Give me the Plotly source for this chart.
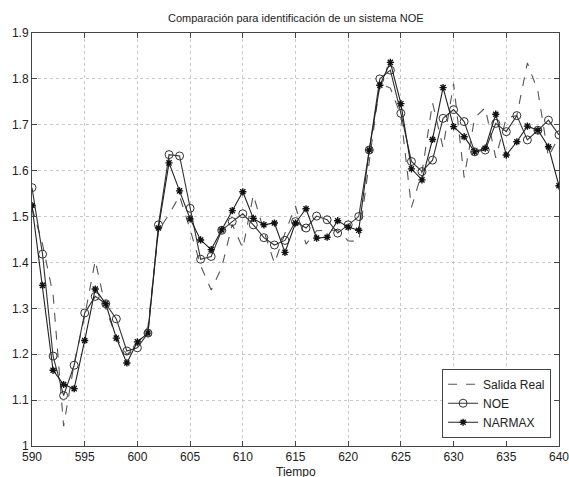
import plotly.graph_objects as go

tiempo = list(range(590, 641))

salida_real = [1.52, 1.44, 1.33, 1.043, 1.18, 1.283, 1.404, 1.30, 1.236, 1.199,
               1.22, 1.26, 1.469, 1.505, 1.545, 1.472, 1.393, 1.34, 1.389, 1.483,
               1.431, 1.547, 1.469, 1.398, 1.464, 1.523, 1.44, 1.469, 1.47, 1.47,
               1.447, 1.446, 1.62, 1.79, 1.78, 1.72, 1.52, 1.596, 1.748, 1.65,
               1.79, 1.585, 1.715, 1.737, 1.628, 1.715, 1.72, 1.835, 1.773, 1.63,
               1.675]

noe = [1.563, 1.418, 1.196, 1.11, 1.176, 1.29, 1.326, 1.31, 1.277, 1.207,
       1.214, 1.246, 1.482, 1.635, 1.632, 1.518, 1.407, 1.413, 1.470, 1.489,
       1.506, 1.482, 1.454, 1.438, 1.448, 1.489, 1.475, 1.501, 1.493, 1.464,
       1.482, 1.50, 1.645, 1.80, 1.819, 1.725, 1.62, 1.598, 1.623, 1.714,
       1.733, 1.707, 1.641, 1.645, 1.703, 1.685, 1.72, 1.667, 1.688, 1.71,
       1.678]

narmax = [1.524, 1.35, 1.165, 1.134, 1.125, 1.23, 1.342, 1.31, 1.235, 1.181,
          1.227, 1.246, 1.475, 1.617, 1.556, 1.495, 1.449, 1.428, 1.471, 1.513,
          1.554, 1.496, 1.482, 1.486, 1.422, 1.486, 1.517, 1.453, 1.455, 1.491,
          1.477, 1.470, 1.645, 1.786, 1.836, 1.746, 1.604, 1.580, 1.668, 1.781,
          1.696, 1.674, 1.641, 1.649, 1.723, 1.634, 1.663, 1.697, 1.688, 1.652,
          1.567]

x_ticks = list(range(590, 641, 5))
y_ticks = [1, 1.1, 1.2, 1.3, 1.4, 1.5, 1.6, 1.7, 1.8, 1.9]
y_tick_text = ["1", "1.1", "1.2", "1.3", "1.4", "1.5", "1.6", "1.7", "1.8", "1.9"]

font_family = "Liberation Sans, Arial, sans-serif"

fig = go.Figure()
fig.add_trace(go.Scatter(
    x=tiempo, y=salida_real, mode="lines", name="Salida Real",
    line=dict(color="#555555", width=1.1, dash="dash")))
fig.add_trace(go.Scatter(
    x=tiempo, y=noe, mode="lines+markers", name="NOE",
    line=dict(color="#333333", width=1.1),
    marker=dict(symbol="circle-open", size=8, color="#333333", line=dict(width=1))))
fig.add_trace(go.Scatter(
    x=tiempo, y=narmax, mode="lines+markers", name="NARMAX",
    line=dict(color="#222222", width=1.1),
    marker=dict(symbol="asterisk-open", size=6, color="#111111", line=dict(width=1.4))))

axis_common = dict(
    showline=True, linecolor="#444444", linewidth=1, mirror="ticks",
    ticks="inside", ticklen=5, tickcolor="#444444",
    showgrid=True, gridcolor="#c8c8c8", griddash="dot", gridwidth=1,
    zeroline=False, automargin=False, ticklabeloverflow="allow",
    tickfont=dict(family=font_family, size=12, color="#222222"),
)

fig.update_layout(
    width=569, height=477,
    margin=dict(l=32, r=10, t=33, b=31),
    paper_bgcolor="white", plot_bgcolor="white",
    font=dict(family=font_family, size=12, color="#222222"),
    showlegend=True,
    legend=dict(x=0.985, y=0.02, xanchor="right", yanchor="bottom",
                bgcolor="white", bordercolor="#444444", borderwidth=1,
                font=dict(family=font_family, size=12, color="#222222"),
                tracegroupgap=0, itemwidth=30),
    xaxis=dict(range=[590, 640], tickvals=x_ticks, **axis_common),
    yaxis=dict(range=[1, 1.9], tickvals=y_ticks, ticktext=y_tick_text, **axis_common),
    annotations=[
        dict(text="Comparación para identificación de un sistema NOE",
             xref="paper", yref="paper", x=0.5, y=1, yshift=15,
             xanchor="center", yanchor="middle", showarrow=False,
             font=dict(family=font_family, size=11, color="#222222")),
        dict(text="Tiempo", xref="paper", yref="paper", x=0.5, y=0, yshift=-26,
             xanchor="center", yanchor="middle", showarrow=False,
             font=dict(family=font_family, size=12, color="#222222")),
    ],
)

fig.write_html("out.html", config={"displayModeBar": False},
               post_script="document.body.style.margin='0';")
